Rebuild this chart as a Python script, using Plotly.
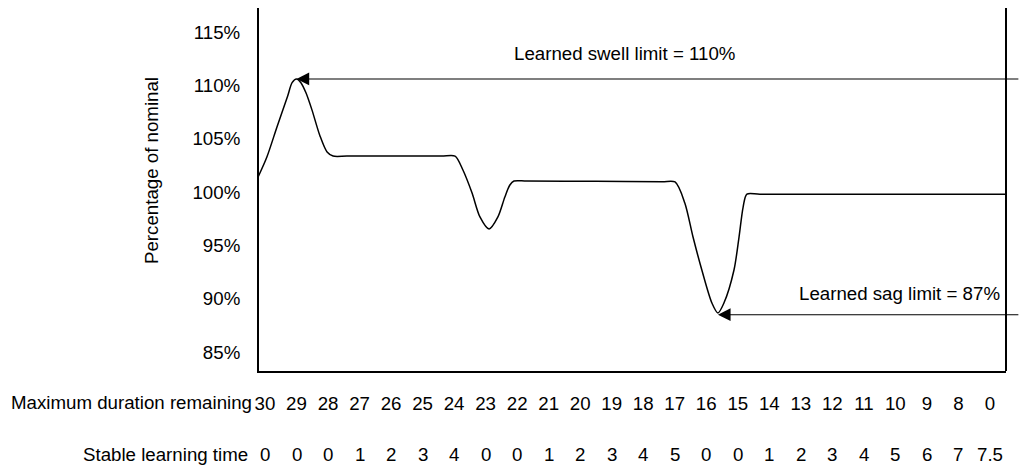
import plotly.graph_objects as go

# Data
duration_labels = ["30", "29", "28", "27", "26", "25", "24", "23", "22", "21", "20", "19",
                   "18", "17", "16", "15", "14", "13", "12", "11", "10", "9", "8", "0"]
stable_labels = ["0", "0", "0", "1", "2", "3", "4", "0", "0", "1", "2", "3",
                 "4", "5", "0", "0", "1", "2", "3", "4", "5", "6", "7", "7.5"]

curve_x = [-0.22, 0.06, 0.38, 0.72, 0.86, 1.0, 1.14, 1.3, 1.49, 1.74, 1.97, 2.16,
           2.6, 4.0, 5.6, 6.03, 6.28, 6.57, 6.82, 7.11, 7.39, 7.61, 7.77, 7.9,
           8.3, 10.5, 12.6, 13.01, 13.32, 13.58, 13.86, 14.18, 14.37, 14.56, 14.88,
           15.04, 15.17, 15.29, 15.7, 19.5, 23.51]
curve_y = [101.4, 103.28, 106.1, 109.0, 110.25, 110.6, 110.25, 109.3, 107.7, 105.3, 103.75, 103.37,
           103.37, 103.37, 103.37, 103.37, 102.06, 99.9, 97.66, 96.53, 97.66, 99.53, 100.66, 101.03,
           101.03, 101.0, 100.96, 100.94, 98.97, 95.78, 92.69, 89.59, 88.66, 89.59, 92.69,
           95.78, 98.59, 99.81, 99.8, 99.8, 99.78]

swell_peak = (1.0, 110.6)
sag_min = (14.37, 88.5)
y_ticks = [85, 90, 95, 100, 105, 110, 115]
y_tick_labels = ["85%", "90%", "95%", "100%", "105%", "110%", "115%"]

FONT = "Liberation Sans, Arial, sans-serif"
FS = 18.7
idx = list(range(len(duration_labels)))

fig = go.Figure()
fig.add_trace(go.Scatter(
    x=curve_x, y=curve_y, mode="lines",
    line=dict(color="black", width=1.5, shape="spline", smoothing=0.8),
    hoverinfo="skip", showlegend=False,
))

annotations = []
# Arrows
for pt in (swell_peak, sag_min):
    annotations.append(dict(x=pt[0], y=pt[1], xref="x", yref="y",
                            ax=23.95, ay=pt[1], axref="x", ayref="y",
                            showarrow=True, arrowhead=2, arrowsize=2.3, arrowwidth=1.1,
                            arrowcolor="black", text=""))
annotations.append(dict(x=7.84, y=112.94, xref="x", yref="y", xanchor="left",
                        yanchor="middle", showarrow=False,
                        text="Learned swell limit = 110%",
                        font=dict(size=FS, color="black", family=FONT)))
annotations.append(dict(x=23.38, y=90.53, xref="x", yref="y", xanchor="right",
                        yanchor="middle", showarrow=False,
                        text="Learned sag limit = 87%",
                        font=dict(size=FS, color="black", family=FONT)))
# Row titles
annotations.append(dict(x=-0.0067, y=-0.0854, xref="paper", yref="paper", xanchor="right",
                        yanchor="middle", showarrow=False,
                        text="Maximum duration remaining",
                        font=dict(size=FS, color="black", family=FONT)))
annotations.append(dict(x=-0.012, y=-0.231, xref="paper", yref="paper", xanchor="right",
                        yanchor="middle", showarrow=False,
                        text="Stable learning time",
                        font=dict(size=FS, color="black", family=FONT)))
# Second row of labels
for i, lab in zip(idx, stable_labels):
    annotations.append(dict(x=i, y=-0.231, xref="x", yref="paper", xanchor="center",
                            yanchor="middle", showarrow=False, text=lab,
                            font=dict(size=FS, color="black", family=FONT)))
# Y title
annotations.append(dict(x=-0.1446, y=0.5537, xref="paper", yref="paper", xanchor="center",
                        yanchor="middle", showarrow=False, textangle=-90,
                        text="Percentage of nominal",
                        font=dict(size=FS, color="black", family=FONT)))

fig.update_layout(
    width=1025, height=460,
    margin=dict(l=251, r=27, t=0, b=97),
    paper_bgcolor="white", plot_bgcolor="white",
    font=dict(family=FONT, size=FS, color="black"),
    showlegend=False,
    annotations=annotations,
    shapes=[dict(type="line", xref="paper", yref="paper", x0=1, x1=1, y0=0, y1=1,
                 line=dict(color="black", width=2))],
    xaxis=dict(range=[-0.19, 23.51], tickmode="array", tickvals=idx,
               ticktext=duration_labels, showgrid=False, zeroline=False,
               showline=True, linecolor="black", linewidth=2, ticks="",
               ticklabelstandoff=15, tickfont=dict(size=FS, color="black", family=FONT)),
    yaxis=dict(range=[83.22, 117.25], tickmode="array", tickvals=y_ticks,
               ticktext=y_tick_labels, showgrid=False, zeroline=False,
               showline=True, linecolor="black", linewidth=2, ticks="",
               ticklabelstandoff=13, tickfont=dict(size=FS, color="black", family=FONT)),
)

fig.write_html("out.html")
